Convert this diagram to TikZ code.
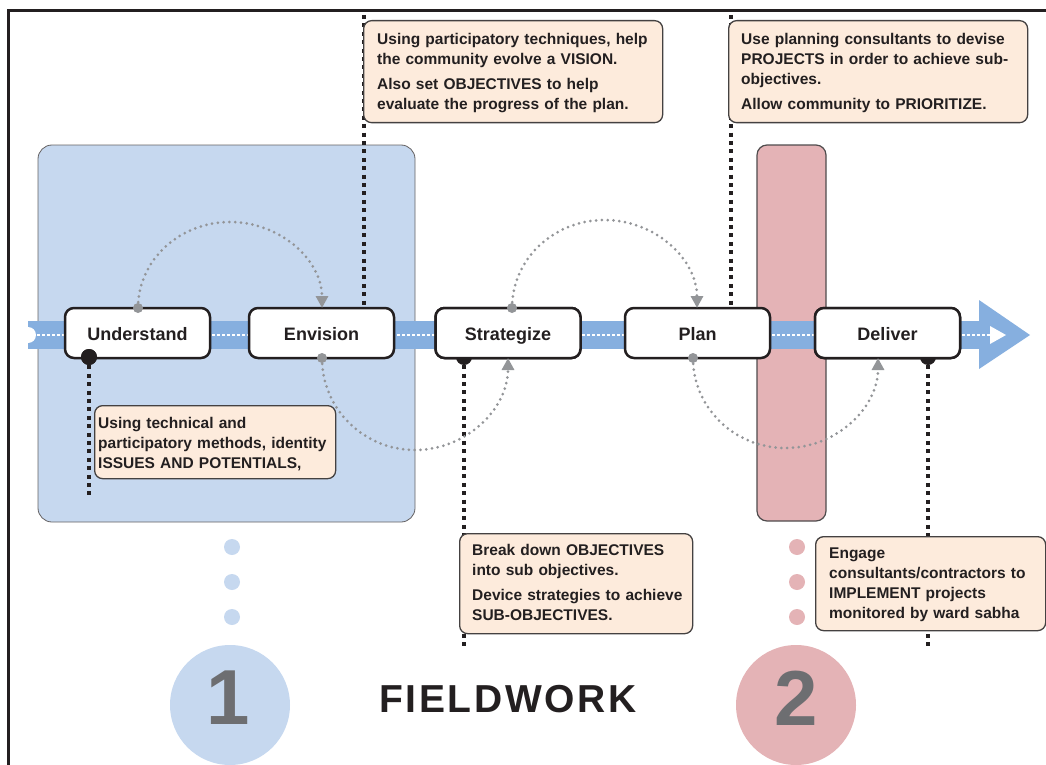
\documentclass[tikz,border=0pt]{standalone}
\usepackage{fontspec}
\setmainfont{Liberation Sans}
\usetikzlibrary{arrows.meta,calc}
\definecolor{ink}{HTML}{231F20}
\definecolor{bandblue}{HTML}{86AFDF}
\definecolor{paleblue}{HTML}{C6D8EF}
\definecolor{palepink}{HTML}{E4B3B6}
\definecolor{calloutfill}{HTML}{FDEBDC}
\definecolor{arcgray}{HTML}{939598}
\definecolor{digitgray}{HTML}{6D6E71}
\tikzset{
  stage/.style={draw=ink, line width=2.5pt, fill=white, rounded corners=9pt,
    minimum width=145pt, minimum height=50pt, inner sep=0pt, text=ink,
    text height=15pt, text depth=1pt,
    font=\fontsize{18}{20}\selectfont\bfseries},
  callout/.style={draw=ink!85, line width=1.3pt, fill=calloutfill, rounded corners=8pt,
    inner sep=0pt, anchor=north west},
  ctext/.style={anchor=base west, inner sep=0pt, align=left, text=ink, text width=300pt,
    font=\fontsize{15.5}{20}\selectfont\bfseries},
  vdots/.style={ink, line width=4pt, dash pattern=on 4pt off 4.4pt},
  garc/.style={arcgray, line width=3pt, line cap=round, dash pattern=on 0pt off 5.8pt,
    -{Triangle[length=12pt,width=12pt]}},
  gdot/.style={circle, fill=arcgray, inner sep=0pt, minimum size=10pt},
  bdot/.style={circle, fill=ink, inner sep=0pt, minimum size=16pt},
  smalldot/.style={circle, inner sep=0pt, minimum size=16pt},
  bigdisc/.style={circle, inner sep=0pt, minimum size=120pt},
  digit/.style={text=digitgray, font=\fontsize{78}{80}\selectfont\bfseries, inner sep=0pt},
}
\begin{document}
\begin{tikzpicture}[x=1pt,y=-1pt]
\useasboundingbox (0,0) rectangle (1046,765);
\clip (0,0) rectangle (1046,765);

% page frame
\draw[ink, line width=3pt] (8,765) -- (8,11) -- (1046,11);

% phase backgrounds
\draw[fill=paleblue, draw=ink!70, line width=0.8pt, rounded corners=14pt] (38,145) rectangle (415,522);
\draw[fill=palepink, draw=ink!80, line width=1.2pt, rounded corners=10pt] (757,145) rectangle (826,521);

% upper leader lines (behind the callouts)
\coordinate (t1) at (364,15);
\coordinate (t2) at (731,15);

% main time band with its arrowhead
\fill[bandblue] (28,321) rectangle (980,349);
\fill[bandblue] (979,300) -- (1030,335) -- (979,369) -- cycle;
\fill[white] (28,335) circle (8);
\draw[white, line width=2.5pt, dash pattern=on 2.5pt off 2.5pt] (37,335) -- (992,335);
\fill[white] (990,326) -- (1006,335) -- (990,344) -- cycle;

% stages
\node[stage] (und) at (137.5,333) {Understand};
\node[stage] (env) at (321.5,333) {Envision};
\node[stage] (str) at (508,333) {Strategize};
\node[stage] (pln) at (697.5,333) {Plan};
\node[stage] (dlv) at (887.5,333) {Deliver};

\draw[vdots] (t1) -- (t1 |- env.north);
\draw[vdots] (t2) -- (t2 |- pln.north);

% anchor dots of the lower leader lines
\node[bdot] (sd) at (464,357) {};
\node[bdot] (dd) at (928,357) {};
\node[bdot] (ud) at (89,357) {};
\node[stage] at (str) {Strategize};
\node[stage] at (dlv) {Deliver};

% lower leader lines
\coordinate (ue) at (89,497);
\coordinate (se) at (464,650);
\coordinate (de) at (928,650);
\draw[vdots] (ud.center) -- (ue);
\draw[vdots] (sd.south) -- (se);
\draw[vdots] (dd.south) -- (de);
\node[bdot] at (ud) {};

% iteration loops between stages
\node[gdot] (g1) at (138,308) {};
\node[gdot] (g2) at (322,358) {};
\node[gdot] (g3) at (512,308) {};
\node[gdot] (g4) at (693,358) {};
\draw[garc] (g1.center) arc[start angle=180, end angle=360, x radius=92, y radius=86];
\draw[garc] (g2.center) arc[start angle=180, end angle=0, x radius=93, y radius=92];
\draw[garc] (g3.center) arc[start angle=180, end angle=360, x radius=92.5, y radius=88];
\draw[garc] (g4.center) arc[start angle=180, end angle=0, x radius=92.5, y radius=90];

% callouts
\node[callout, minimum width=299pt, minimum height=102pt] (c1) at (363,20) {};
\node[ctext] at ($(c1.north west)+(14,25)$) {Using participatory techniques, help\\
  the community evolve a VISION.\\[5pt]
  Also set OBJECTIVES to help\\
  evaluate the progress of the plan.};

\node[callout, minimum width=299pt, minimum height=102pt] (c2) at (728,20) {};
\node[ctext] at ($(c2.north west)+(13,25)$) {Use planning consultants to devise\\
  PROJECTS in order to achieve sub-\\
  objectives.\\[5pt]
  Allow community to PRIORITIZE.};

\node[callout, minimum width=241pt, minimum height=73pt] (c3) at (94,405) {};
\node[ctext] at ($(c3.north west)+(4,23)$) {Using technical and\\
  participatory methods, identity\\
  ISSUES AND POTENTIALS,};

\node[callout, minimum width=233pt, minimum height=100pt] (c4) at (459,533) {};
\node[ctext] at ($(c4.north west)+(13,22)$) {Break down OBJECTIVES\\
  into sub objectives.\\[5pt]
  Device strategies to achieve\\
  SUB-OBJECTIVES.};

\node[callout, minimum width=230pt, minimum height=94pt] (c5) at (815,536) {};
\node[ctext] at ($(c5.north west)+(14,22)$) {Engage\\
  consultants/contractors to\\
  IMPLEMENT projects\\
  monitored by ward sabha};

% phase markers
\foreach \yy/\nm in {547/a,582/b,617/c}{
  \node[smalldot, fill=paleblue] (b\nm) at (232,\yy) {};
  \node[smalldot, fill=palepink] (p\nm) at (797,\yy) {};
}
\node[bigdisc, fill=paleblue] (one) at (230,705) {};
\node[bigdisc, fill=palepink] (two) at (796,705) {};
\node[digit] at (228,698) {1};
\node[digit] at (796,698) {2};

\node[anchor=base, inner sep=0pt, text=ink,
  font=\fontsize{39}{40}\selectfont\bfseries\addfontfeature{LetterSpace=6.7}]
  (fw) at (508,712) {FIELDWORK};
\end{tikzpicture}
\end{document}
